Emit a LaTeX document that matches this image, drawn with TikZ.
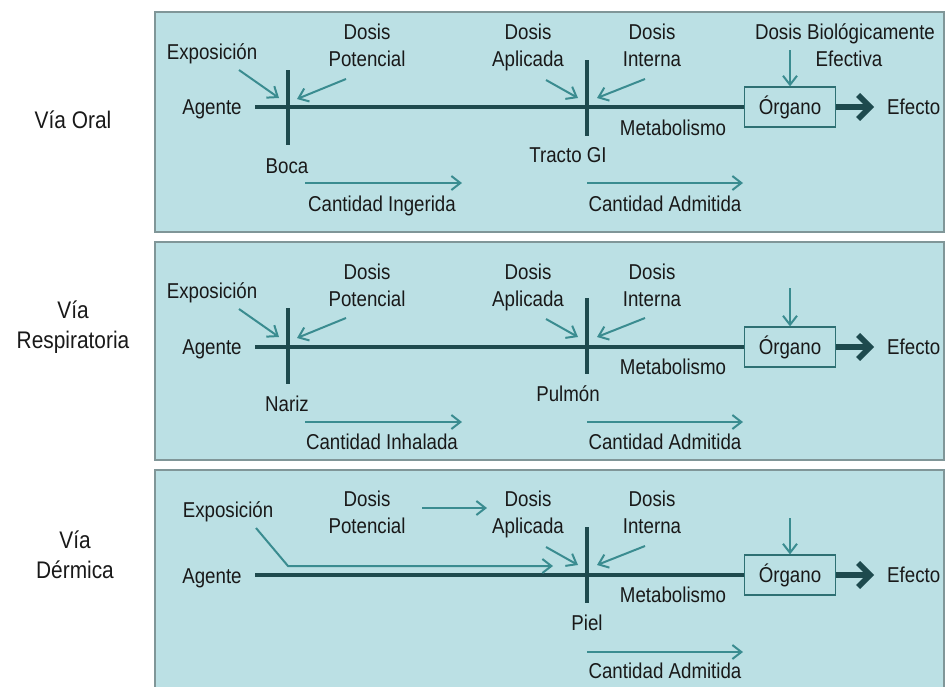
\documentclass[tikz,border=0pt]{standalone}
\usepackage{fontspec}
\setmainfont{Liberation Sans}[FakeStretch=0.87]
\usetikzlibrary{arrows.meta}
\definecolor{panelfill}{RGB}{187,224,228}
\definecolor{panelborder}{RGB}{128,150,152}
\definecolor{thinteal}{RGB}{58,140,144}
\definecolor{darkteal}{RGB}{30,74,78}
\definecolor{txt}{RGB}{25,25,25}
\tikzset{
  panel/.style={fill=panelfill,draw=panelborder,line width=2pt},
  lbl/.style={text=txt,font=\fontsize{21.5}{27}\selectfont,inner sep=0pt,align=center,
    execute at begin node=\strut,execute at end node=\strut},
  vialbl/.style={text=txt,font=\fontsize{24}{30}\selectfont,inner sep=0pt,align=center},
  thinarrow/.style={draw=thinteal,line width=2pt,-{Straight Barb[length=9pt,width=14pt,line width=2pt]}},
  mainline/.style={draw=darkteal,line width=4.5pt},
  barline/.style={draw=darkteal,line width=4pt},
  organbox/.style={draw=thinteal!80!black,line width=1.2pt,minimum width=91pt,minimum height=40pt,text=txt,font=\fontsize{21.5}{27}\selectfont,inner sep=0pt},
  bigarrow/.style={draw=darkteal,line width=6pt,shorten >=13pt,-{Straight Barb[length=12pt,width=24pt,line width=5.5pt]}}
}
\begin{document}
\begin{tikzpicture}[x=1pt,y=-1pt]
\useasboundingbox (0,0) rectangle (947,686);
\clip (0,0) rectangle (947,686);
\fill[white] (0,0) rectangle (947,686);
% panels
\draw[panel] (155,12) rectangle (944,232);
\draw[panel] (155,242) rectangle (944,460);
\draw[panel] (155,470) rectangle (944,700);
% route labels
\node[vialbl] (via1) at (73,120) {Vía Oral};
\node[vialbl] (via2) at (73,327) {Vía\\Respiratoria};
\node[vialbl] (via3) at (75,555) {Vía\\Dérmica};

% ===== Panel 1 : oral =====
\begin{scope}
\node[lbl] (expA) at (212,54) {Exposición};
\node[lbl] (potA) at (367,49) {Dosis\\Potencial};
\node[lbl] (aplA) at (528,49) {Dosis\\Aplicada};
\node[lbl] (intA) at (652,49) {Dosis\\Interna};
\node[lbl] (bioA) at (845,49) {Dosis Biológicamente\\\hspace*{8pt}Efectiva};
\node[lbl] (agA) at (212,109) {Agente};
\node[lbl] (bocA) at (287,168) {Boca};
\node[lbl] (traA) at (568,157) {Tracto GI};
\node[lbl] (metA) at (673,130) {Metabolismo};
\node[organbox] (orgA) at (790,107) {Órgano};
\node[lbl,anchor=west] (efA) at (887,109) {Efecto};
\node[lbl] (cinA) at (382,206) {Cantidad Ingerida};
\node[lbl] (cadA) at (665,206) {Cantidad Admitida};
\coordinate (mlA) at (255,107);
\coordinate (b1tA) at (288,70); \coordinate (b1bA) at (288,145);
\coordinate (b2tA) at (587,60); \coordinate (b2bA) at (587,136);
\coordinate (e1A) at (239,70); \coordinate (e2A) at (279,98);
\coordinate (p1A) at (346,79); \coordinate (p2A) at (297,99);
\coordinate (a1A) at (546,80); \coordinate (a2A) at (578,98);
\coordinate (i1A) at (645,79); \coordinate (i2A) at (597,98);
\coordinate (o1A) at (790,50);
\coordinate (c1A) at (305,183); \coordinate (c2A) at (462,183);
\coordinate (d1A) at (587,183); \coordinate (d2A) at (743,183);
\draw[mainline] (mlA) -- (orgA.west);
\draw[barline] (b1tA) -- (b1bA);
\draw[barline] (b2tA) -- (b2bA);
\draw[bigarrow] (orgA.east) -- (orgA.east -| efA.west);
\draw[thinarrow] (e1A) -- (e2A);
\draw[thinarrow] (p1A) -- (p2A);
\draw[thinarrow] (a1A) -- (a2A);
\draw[thinarrow] (i1A) -- (i2A);
\draw[thinarrow] (o1A) -- (orgA.north);
\draw[thinarrow] (c1A) -- (c2A);
\draw[thinarrow] (d1A) -- (d2A);
\end{scope}

% ===== Panel 2 : respiratoria =====
\begin{scope}[yshift=-240pt]
\node[lbl] (expB) at (212,53) {Exposición};
\node[lbl] (potB) at (367,49) {Dosis\\Potencial};
\node[lbl] (aplB) at (528,49) {Dosis\\Aplicada};
\node[lbl] (intB) at (652,49) {Dosis\\Interna};
\node[lbl] (agB) at (212,109) {Agente};
\node[lbl] (narB) at (287,166) {Nariz};
\node[lbl] (pulB) at (568,156) {Pulmón};
\node[lbl] (metB) at (673,129) {Metabolismo};
\node[organbox] (orgB) at (790,107) {Órgano};
\node[lbl,anchor=west] (efB) at (887,109) {Efecto};
\node[lbl] (cinB) at (382,204) {Cantidad Inhalada};
\node[lbl] (cadB) at (665,204) {Cantidad Admitida};
\coordinate (mlB) at (255,107);
\coordinate (b1tB) at (288,68); \coordinate (b1bB) at (288,144);
\coordinate (b2tB) at (587,58); \coordinate (b2bB) at (587,134);
\coordinate (e1B) at (239,69); \coordinate (e2B) at (279,97);
\coordinate (p1B) at (346,78); \coordinate (p2B) at (297,98);
\coordinate (a1B) at (546,79); \coordinate (a2B) at (578,97);
\coordinate (i1B) at (645,78); \coordinate (i2B) at (597,97);
\coordinate (o1B) at (790,48);
\coordinate (c1B) at (305,182); \coordinate (c2B) at (462,182);
\coordinate (d1B) at (587,182); \coordinate (d2B) at (743,182);
\draw[mainline] (mlB) -- (orgB.west);
\draw[barline] (b1tB) -- (b1bB);
\draw[barline] (b2tB) -- (b2bB);
\draw[bigarrow] (orgB.east) -- (orgB.east -| efB.west);
\draw[thinarrow] (e1B) -- (e2B);
\draw[thinarrow] (p1B) -- (p2B);
\draw[thinarrow] (a1B) -- (a2B);
\draw[thinarrow] (i1B) -- (i2B);
\draw[thinarrow] (o1B) -- (orgB.north);
\draw[thinarrow] (c1B) -- (c2B);
\draw[thinarrow] (d1B) -- (d2B);
\end{scope}

% ===== Panel 3 : dermica =====
\begin{scope}[yshift=-468pt]
\node[lbl] (expC) at (228,44) {Exposición};
\node[lbl] (potC) at (367,48) {Dosis\\Potencial};
\node[lbl] (aplC) at (528,48) {Dosis\\Aplicada};
\node[lbl] (intC) at (652,48) {Dosis\\Interna};
\node[lbl] (agC) at (212,110) {Agente};
\node[lbl] (pieC) at (587,157) {Piel};
\node[lbl] (metC) at (673,129) {Metabolismo};
\node[organbox] (orgC) at (790,107) {Órgano};
\node[lbl,anchor=west] (efC) at (887,109) {Efecto};
\node[lbl] (cadC) at (665,205) {Cantidad Admitida};
\coordinate (mlC) at (255,107);
\coordinate (b2tC) at (587,59); \coordinate (b2bC) at (587,135);
\coordinate (e1C) at (256,60); \coordinate (ekC) at (288,98); \coordinate (e2C) at (553,98);
\coordinate (p1C) at (422,40); \coordinate (p2C) at (487,40);
\coordinate (a1C) at (546,79); \coordinate (a2C) at (578,97);
\coordinate (i1C) at (645,78); \coordinate (i2C) at (597,97);
\coordinate (o1C) at (790,50);
\coordinate (d1C) at (587,184); \coordinate (d2C) at (743,184);
\draw[mainline] (mlC) -- (orgC.west);
\draw[barline] (b2tC) -- (b2bC);
\draw[bigarrow] (orgC.east) -- (orgC.east -| efC.west);
\draw[thinarrow] (e1C) -- (ekC) -- (e2C);
\draw[thinarrow] (p1C) -- (p2C);
\draw[thinarrow] (a1C) -- (a2C);
\draw[thinarrow] (i1C) -- (i2C);
\draw[thinarrow] (o1C) -- (orgC.north);
\draw[thinarrow] (d1C) -- (d2C);
\end{scope}
\end{tikzpicture}
\end{document}
